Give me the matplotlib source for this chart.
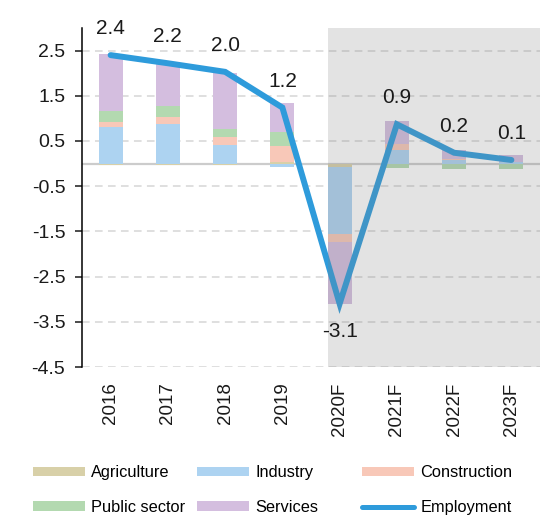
import numpy as np
import matplotlib
matplotlib.use("Agg")
import matplotlib.pyplot as plt
from matplotlib.patches import Patch
from matplotlib.lines import Line2D

plt.rcParams['font.family'] = ['Liberation Sans', 'DejaVu Sans']

# data
years = ['2016', '2017', '2018', '2019', '2020F', '2021F', '2022F', '2023F']
agriculture = [-0.04, -0.02, -0.02, 0.03, -0.07, 0.0, 0.0, 0.0]
industry = [0.80, 0.87, 0.42, -0.08, -1.49, 0.31, 0.07, 0.03]
construction = [0.12, 0.16, 0.17, 0.36, -0.17, 0.12, 0.03, 0.0]
public_sector = [0.24, 0.24, 0.18, 0.31, 0.0, -0.09, -0.11, -0.11]
services = [1.26, 0.95, 1.23, 0.63, -1.37, 0.51, 0.21, 0.15]
employment = [2.40, 2.22, 2.03, 1.24, -3.10, 0.87, 0.24, 0.08]
yticks = [2.5, 1.5, 0.5, -0.5, -1.5, -2.5, -3.5, -4.5]

series = [
    ('Agriculture', agriculture, '#D8D0A8'),
    ('Industry', industry, '#ADD3F1'),
    ('Construction', construction, '#F8C8B8'),
    ('Public sector', public_sector, '#B3D9B0'),
    ('Services', services, '#D4BEDF'),
]
line_color = '#2E9BDB'

fig = plt.figure(figsize=(5.4, 5.15), dpi=100)
ax = fig.add_axes([82 / 540, 1 - 367 / 515, 1 - 82 / 540, (367 - 28) / 515])

x = np.arange(len(years))
width = 0.42
pos_bottom = np.zeros(len(years))
neg_bottom = np.zeros(len(years))
for name, vals, col in series:
    v = np.array(vals)
    bottom = np.where(v >= 0, pos_bottom, neg_bottom)
    ax.bar(x, v, width, bottom=bottom, color=col, linewidth=0, zorder=2)
    pos_bottom = pos_bottom + np.where(v > 0, v, 0)
    neg_bottom = neg_bottom + np.where(v < 0, v, 0)

ax.plot(x, employment, color=line_color, lw=4.3, solid_capstyle='round',
        solid_joinstyle='miter', zorder=3)

# forecast shading drawn over bars and line
ax.axvspan(4 - width / 2, len(years) - 0.5, color='#808080', alpha=0.22,
           lw=0, zorder=4)

# value labels
for xi, v in zip(x, employment):
    off = -20 if v < 0 else 19
    ax.annotate(f'{v:.1f}', (xi, v), xytext=(0, off), textcoords='offset points',
                ha='center', va='center', fontsize=15, color='#1a1a1a', zorder=6)

# grid and zero line
for t in yticks:
    ax.axhline(t, color='#D6D6D6', lw=1.1, dashes=(5, 3.5), zorder=1)
ax.axhline(0, color='#CCCCCC', lw=1.6, zorder=1)

ax.set_xlim(-0.5, len(years) - 0.5)
ax.set_ylim(-4.5, 3.0)
ax.set_yticks(yticks)
ax.set_yticklabels([f'{t:.1f}' for t in yticks])
ax.set_xticks(x)
ax.set_xticklabels(years, rotation=90)

for s in ['top', 'right', 'bottom']:
    ax.spines[s].set_visible(False)
ax.spines['left'].set_color('black')
ax.spines['left'].set_linewidth(1.1)
ax.tick_params(axis='y', length=5, width=1.1, pad=7, labelsize=14, colors='#1a1a1a')
ax.tick_params(axis='x', length=0, pad=11, labelsize=13.5, colors='#1a1a1a')

# legend in three fixed columns
handles = {name: Patch(facecolor=col, edgecolor='none') for name, _, col in series}
handles['Employment'] = Line2D([0], [0], color=line_color, lw=3.6, solid_capstyle='round')
columns = [['Agriculture', 'Public sector'], ['Industry', 'Services'],
           ['Construction', 'Employment']]
col_x = [33, 197, 362]
for names, cx in zip(columns, col_x):
    fig.legend([handles[n] for n in names], names, loc='center left',
               bbox_to_anchor=(cx / 540, 1 - 490 / 515), frameon=False,
               fontsize=11.8, handlelength=3.2, handleheight=0.5,
               handletextpad=0.35, labelspacing=1.2, borderpad=0, borderaxespad=0)

fig.savefig('out.png', dpi=100)
